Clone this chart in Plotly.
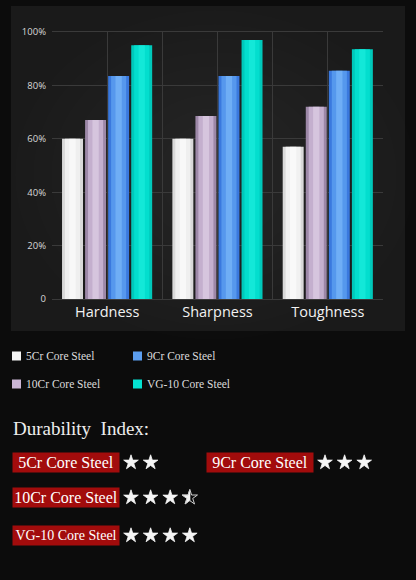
import plotly.graph_objects as go

# ---------------- data ----------------
categories = ["Hardness", "Sharpness", "Toughness"]
series_names = ["5Cr Core Steel", "10Cr Core Steel", "9Cr Core Steel", "VG-10 Core Steel"]
values_5cr = [60, 60, 57]
values_10cr = [67, 68.5, 72]
values_9cr = [83.5, 83.5, 85.5]
values_vg10 = [95, 97, 93.5]
y_tickvals = [0, 20, 40, 60, 80, 100]
y_ticktext = ["0", "20%", "40%", "60%", "80%", "100%"]

rating_names = ["5Cr Core Steel", "9Cr Core Steel", "10Cr Core Steel", "VG-10 Core Steel"]
ratings = [2, 3, 3.5, 4]
index_title = "Durability\u00a0 Index:"

# ---------------- style ----------------
series_values = [values_5cr, values_10cr, values_9cr, values_vg10]
edge_cols = ["#d9d9d9", "#9d88a8", "#3a79de", "#00c9bb"]
main_cols = ["#f4f4f4", "#cbb6d5", "#5b9ef0", "#04e2d2"]
light_cols = ["#ffffff", "#e2d4ea", "#80bdfb", "#1ff0e0"]

W, H = 416, 580
bg = "#0c0c0c"
grid = "#3a3a3a"
serif = "Liberation Serif, DejaVu Serif, serif"
sans = "Open Sans, Noto Sans, sans-serif"


def px(x):
    return x / W


def py(y):
    return 1 - y / H


bar_w = 0.19
step = 0.209
start = -0.409

fig = go.Figure()

x_idx = list(range(len(categories)))
for i, (name, vals) in enumerate(zip(series_names, series_values)):
    off = start + i * step
    layers = [(1.0, edge_cols[i]), (0.72, main_cols[i]), (0.3, light_cols[i])]
    for frac, col in layers:
        w = bar_w * frac
        fig.add_trace(go.Bar(
            x=x_idx, y=vals, name=name,
            width=w, offset=off + (bar_w - w) / 2,
            marker=dict(color=col, line=dict(width=0)),
            opacity=1.0 if frac == 1.0 else (0.85 if frac > 0.5 else 0.6),
            showlegend=False,
            hoverinfo="skip" if frac != 1.0 else None,
        ))

shapes = []
annotations = []

# panel background with soft radial glow (paper-referenced, below everything)
shapes.append(dict(type="rect", xref="paper", yref="paper", x0=px(11), x1=px(405), y0=py(331), y1=py(6),
                   fillcolor="#1a1a1a", line=dict(width=0), layer="below"))
cx, cy = 215, 175
for k in range(10):
    rx = 200 - k * 18
    ry = 165 - k * 14
    shapes.append(dict(type="circle", xref="paper", yref="paper",
                       x0=px(cx - rx), x1=px(cx + rx), y0=py(cy + ry), y1=py(cy - ry),
                       fillcolor="rgba(255,255,255,0.009)", line=dict(width=0), layer="below"))

# legend (manual 2x2 grid)
legend_pos = {
    "5Cr Core Steel": (12, 356),
    "9Cr Core Steel": (133, 356),
    "10Cr Core Steel": (12, 384),
    "VG-10 Core Steel": (133, 384),
}
for name, col in zip(series_names, main_cols):
    lx, ly = legend_pos[name]
    shapes.append(dict(type="rect", xref="paper", yref="paper", x0=px(lx), x1=px(lx + 9),
                       y0=py(ly + 4.5), y1=py(ly - 4.5), fillcolor=col, line=dict(width=0)))
    annotations.append(dict(xref="paper", yref="paper", x=px(lx + 12), y=py(ly), text=name, showarrow=False,
                            xanchor="left", yanchor="middle",
                            font=dict(family=serif, size=11.5, color="#dcdcdc")))

annotations.append(dict(xref="paper", yref="paper", x=px(11), y=py(428), text=index_title, showarrow=False,
                        xanchor="left", yanchor="middle",
                        font=dict(family=serif, size=19, color="#eeeeee")))

# rating rows
rating_pos = {
    "5Cr Core Steel": (12, 462.5, 131),
    "9Cr Core Steel": (206, 462.5, 325),
    "10Cr Core Steel": (12, 497.5, 131),
    "VG-10 Core Steel": (12, 535.5, 131),
}
label_size = {"5Cr Core Steel": 16, "9Cr Core Steel": 16, "10Cr Core Steel": 16, "VG-10 Core Steel": 14}
star_gap = 19.6
full_x, full_y, half_x, half_y = [], [], [], []
for name, r in zip(rating_names, ratings):
    bx, by, sx = rating_pos[name]
    annotations.append(dict(xref="paper", yref="paper", x=px(bx), y=py(by), text=name, showarrow=False,
                            xanchor="left", yanchor="middle", width=102, height=15,
                            borderpad=2, bgcolor="#a20c0c", align="center",
                            font=dict(family=serif, size=label_size[name], color="#ffffff")))
    n_full = int(r)
    for k in range(n_full):
        full_x.append(sx + k * star_gap)
        full_y.append(by)
    if r - n_full >= 0.5:
        half_x.append(sx + n_full * star_gap)
        half_y.append(by)

fig.add_trace(go.Scatter(x=full_x + half_x, y=full_y + half_y, mode="markers", xaxis="x2", yaxis="y2",
                         marker=dict(symbol="star", size=11, color="#f5f5f5",
                                     line=dict(width=0.8, color="#f5f5f5")),
                         showlegend=False, hoverinfo="skip"))
# cover right half of the half star, then outline
for hx, hy in zip(half_x, half_y):
    fig.add_trace(go.Scatter(x=[hx + 0.5, hx + 8, hx + 8, hx + 0.5, hx + 0.5],
                             y=[hy - 8, hy - 8, hy + 8, hy + 8, hy - 8],
                             mode="lines", fill="toself", fillcolor=bg, line=dict(width=0),
                             xaxis="x2", yaxis="y2", showlegend=False, hoverinfo="skip"))
fig.add_trace(go.Scatter(x=half_x, y=half_y, mode="markers", xaxis="x2", yaxis="y2",
                         marker=dict(symbol="star-open", size=11.5, color="#cfcfcf", line=dict(width=1)),
                         showlegend=False, hoverinfo="skip"))

fig.update_layout(
    width=W, height=H,
    margin=dict(l=0, r=0, t=0, b=0, autoexpand=False),
    paper_bgcolor=bg,
    plot_bgcolor="rgba(0,0,0,0)",
    barmode="group",
    showlegend=False,
    shapes=shapes,
    annotations=annotations,
    xaxis=dict(
        domain=[px(52), px(383)], range=[-0.5, 2.5], automargin=False,
        tickvals=x_idx, ticktext=categories,
        showgrid=True, gridcolor=grid, gridwidth=1,
        minor=dict(tick0=0.5, dtick=1, showgrid=True, gridcolor=grid, gridwidth=1),
        showline=True, linecolor=grid, mirror=True,
        zeroline=False, ticks="", ticklabelstandoff=0,
        tickfont=dict(family=sans, size=14.5, color="#f2f2f2"),
        fixedrange=True,
    ),
    yaxis=dict(
        domain=[py(299), py(32)], range=[0, 100], automargin=False,
        tickvals=y_tickvals, ticktext=y_ticktext,
        showgrid=True, gridcolor=grid, gridwidth=1,
        showline=False, zeroline=False, ticks="",
        ticklabelstandoff=5,
        tickfont=dict(family=sans, size=9.5, color="#d8d8d8"),
        fixedrange=True,
    ),
    xaxis2=dict(domain=[0, 1], range=[0, W], anchor="y2", automargin=False,
                visible=False, showgrid=False, zeroline=False, fixedrange=True),
    yaxis2=dict(domain=[0, 1], range=[H, 0], anchor="x2", automargin=False,
                visible=False, showgrid=False, zeroline=False, fixedrange=True),
)

fig.write_html("out.html", config={"displayModeBar": False},
               post_script="document.body.style.margin='0';document.body.style.background='#0c0c0c';")
